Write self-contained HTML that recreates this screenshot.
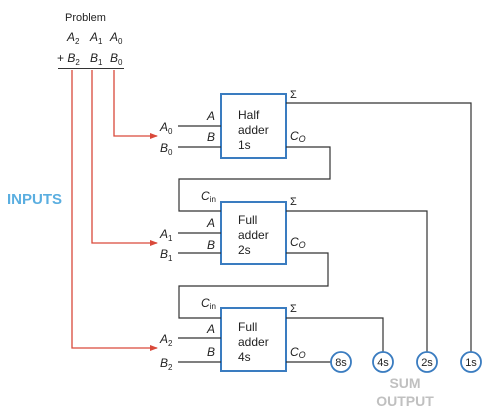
<!DOCTYPE html>
<html><head><meta charset="utf-8"><style>
html,body{margin:0;padding:0;background:#fff;}
svg{display:block;}
text{font-family:"Liberation Sans",sans-serif;fill:#222;}
.i{font-style:italic;}
</style></head><body>
<svg width="495" height="414" viewBox="0 0 495 414" xmlns="http://www.w3.org/2000/svg">
<defs><marker id="ar" markerWidth="8" markerHeight="8" refX="7" refY="4" orient="auto" markerUnits="userSpaceOnUse"><path d="M0,1 L8,4 L0,7 z" fill="#d9493a"/></marker></defs>
<!-- problem -->
<text x="65" y="21" font-size="11">Problem</text>
<text x="67" y="41" font-size="12" class="i">A<tspan font-size="8" dy="3" font-style="normal">2</tspan></text>
<text x="90" y="41" font-size="12" class="i">A<tspan font-size="8" dy="3" font-style="normal">1</tspan></text>
<text x="110" y="41" font-size="12" class="i">A<tspan font-size="8" dy="3" font-style="normal">0</tspan></text>
<text x="57" y="62" font-size="12">+ <tspan class="i">B</tspan><tspan font-size="8" dy="3">2</tspan></text>
<text x="90" y="62" font-size="12" class="i">B<tspan font-size="8" dy="3" font-style="normal">1</tspan></text>
<text x="110" y="62" font-size="12" class="i">B<tspan font-size="8" dy="3" font-style="normal">0</tspan></text>
<line x1="58" y1="68.5" x2="124" y2="68.5" stroke="#333" stroke-width="1"/>
<!-- red -->
<g stroke="#d9493a" stroke-width="1.3" fill="none">
<path d="M114,70 V136 H157" marker-end="url(#ar)"/>
<path d="M92,70 V243 H157" marker-end="url(#ar)"/>
<path d="M72,70 V348 H157" marker-end="url(#ar)"/>
</g>
<text x="7" y="204" font-size="15" font-weight="bold" style="fill:#5aaee0">INPUTS</text>
<!-- boxes -->
<g stroke="#3a7cc0" stroke-width="2" fill="#fff">
<rect x="221" y="94" width="65" height="64"/>
<rect x="221" y="202" width="65" height="62"/>
<rect x="221" y="308" width="65" height="63"/>
</g>
<g font-size="12">
<text x="238" y="119">Half</text><text x="238" y="134">adder</text><text x="238" y="149">1s</text>
<text x="238" y="224">Full</text><text x="238" y="239">adder</text><text x="238" y="254">2s</text>
<text x="238" y="331">Full</text><text x="238" y="346">adder</text><text x="238" y="361">4s</text>
</g>
<!-- wires -->
<g stroke="#333" stroke-width="1.2" fill="none">
<path d="M178,126 H221 M178,147 H221"/>
<path d="M178,233 H221 M178,253 H221"/>
<path d="M178,338 H221 M178,362 H221"/>
<path d="M286,103 H471 V352"/>
<path d="M286,147 H330 V179 H179 V211 H221"/>
<path d="M286,211 H427 V352"/>
<path d="M286,253 H328 V286 H179 V318 H221"/>
<path d="M286,318 H383 V352"/>
<path d="M286,362 H331"/>
</g>
<!-- circles -->
<g stroke="#3a7cc0" stroke-width="1.8" fill="#fff">
<circle cx="341" cy="362" r="10"/><circle cx="383" cy="362" r="10"/>
<circle cx="427" cy="362" r="10"/><circle cx="471" cy="362" r="10"/>
</g>
<g font-size="11" text-anchor="middle">
<text x="341" y="366">8s</text><text x="383" y="366">4s</text><text x="427" y="366">2s</text><text x="471" y="366">1s</text>
</g>
<g font-size="14" font-weight="bold" text-anchor="middle" style="fill:#c0c0c0">
<text x="405" y="388" style="fill:#c0c0c0">SUM</text><text x="405" y="406" style="fill:#c0c0c0">OUTPUT</text>
</g>
<!-- pin labels -->
<g font-size="12" class="i">
<text x="207" y="120">A</text><text x="207" y="141">B</text>
<text x="207" y="227">A</text><text x="207" y="249">B</text>
<text x="207" y="333">A</text><text x="207" y="356">B</text>
<text x="160" y="131">A<tspan font-size="8" dy="3" font-style="normal">0</tspan></text>
<text x="160" y="152">B<tspan font-size="8" dy="3" font-style="normal">0</tspan></text>
<text x="160" y="238">A<tspan font-size="8" dy="3" font-style="normal">1</tspan></text>
<text x="160" y="258">B<tspan font-size="8" dy="3" font-style="normal">1</tspan></text>
<text x="160" y="343">A<tspan font-size="8" dy="3" font-style="normal">2</tspan></text>
<text x="160" y="367">B<tspan font-size="8" dy="3" font-style="normal">2</tspan></text>
<text x="290" y="140">C<tspan font-size="9" dy="2">O</tspan></text>
<text x="290" y="246">C<tspan font-size="9" dy="2">O</tspan></text>
<text x="290" y="356">C<tspan font-size="9" dy="2">O</tspan></text>
<text x="201" y="200">C<tspan font-size="8" dy="2" font-style="normal">in</tspan></text>
<text x="201" y="307">C<tspan font-size="8" dy="2" font-style="normal">in</tspan></text>
</g>
<g font-size="11">
<text x="290" y="98">Σ</text><text x="290" y="205">Σ</text><text x="290" y="312">Σ</text>
</g>
</svg>
</body></html>
